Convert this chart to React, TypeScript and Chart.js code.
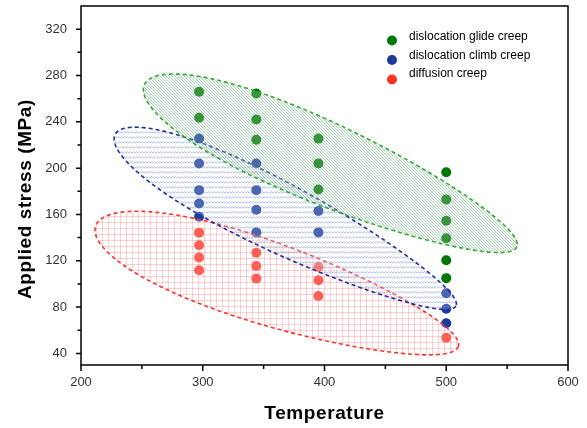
import React, { useEffect, useRef } from 'react';
import { Chart, registerables } from 'chart.js';

Chart.register(...registerables);

// ---- data ----
const seriesLabels = ['dislocation glide creep', 'dislocation climb creep', 'diffusion creep'];

const glideTemp = [297, 297, 344, 344, 344, 395, 395, 395, 500, 500, 500, 500, 500, 500];
const glideStress = [266, 243.5, 264.5, 242, 224.5, 225.5, 204, 181.5, 196.5, 173, 154.5, 139.5, 120.5, 105];

const climbTemp = [297, 297, 297, 297, 297, 344, 344, 344, 344, 395, 395, 500, 500, 500];
const climbStress = [225.5, 204, 181, 169.5, 158, 204, 181, 164, 144.5, 163, 144.5, 92, 78.5, 66];

const diffTemp = [297, 297, 297, 297, 344, 344, 344, 395, 395, 395, 500];
const diffStress = [144.3, 133.4, 122.8, 111.8, 127, 115.5, 104.6, 114.7, 103.2, 89.6, 53.6];

const xTicks = [200, 300, 400, 500, 600];
const xMinorTicks = [250, 350, 450, 550];
const yTicks = [40, 80, 120, 160, 200, 240, 280, 320];
const yMinorTicks = [60, 100, 140, 180, 220, 260, 300];

// regime envelopes (data units): centre temperature, centre stress, tip temperature, tip stress, width ratio, left-end bulge
const glideRegion = [405, 202, 558, 132, 0.2, 0.18];
const climbRegion = [368, 155, 508, 81, 0.18, 0.2];
const diffRegion = [361, 98, 510, 46, 0.215, 0.18];

const FONT = "'Liberation Sans', Arial, sans-serif";

function makePattern(kind: string): CanvasPattern | string {
  const c = document.createElement('canvas');
  const g = c.getContext('2d')!;
  if (kind === 'diag') {
    c.width = 3; c.height = 3;
    g.strokeStyle = 'rgba(40,140,75,0.42)';
    g.lineWidth = 1;
    g.beginPath();
    g.moveTo(-1, -1); g.lineTo(4, 4);
    g.moveTo(-1, 2); g.lineTo(1, 4);
    g.moveTo(2, -1); g.lineTo(4, 1);
    g.stroke();
  } else if (kind === 'wave') {
    c.width = 6; c.height = 5;
    g.strokeStyle = 'rgba(80,110,200,0.45)';
    g.lineWidth = 1;
    g.beginPath();
    g.moveTo(0, 3.2); g.lineTo(1.5, 1.8); g.lineTo(3, 3.2); g.lineTo(4.5, 1.8); g.lineTo(6, 3.2);
    g.stroke();
  } else {
    c.width = 6; c.height = 6;
    g.strokeStyle = 'rgba(255,110,110,0.32)';
    g.lineWidth = 1;
    g.beginPath();
    g.moveTo(0.5, 0); g.lineTo(0.5, 6);
    g.moveTo(0, 0.5); g.lineTo(6, 0.5);
    g.stroke();
  }
  const p = g.createPattern(c, 'repeat');
  return p || 'rgba(0,0,0,0.1)';
}

const regionPlugin = {
  id: 'regions',
  afterDatasetsDraw(chart: any) {
    const ctx = chart.ctx as CanvasRenderingContext2D;
    const xs = chart.scales.x, ys = chart.scales.y;
    const draw = (r: number[], stroke: string, kind: string) => {
      const cx = xs.getPixelForValue(r[0]), cy = ys.getPixelForValue(r[1]);
      const tx = xs.getPixelForValue(r[2]), ty = ys.getPixelForValue(r[3]);
      const a = Math.hypot(tx - cx, ty - cy);
      const ang = Math.atan2(ty - cy, tx - cx);
      const b0 = a * r[4];
      const k = r[5];
      const ca = Math.cos(ang), sa = Math.sin(ang);
      ctx.save();
      ctx.beginPath();
      const n = 180;
      for (let i = 0; i <= n; i++) {
        const t = (i / n) * Math.PI * 2;
        const u = a * Math.cos(t);
        const v = b0 * (1 - k * Math.cos(t)) * Math.sin(t);
        const px = cx + u * ca - v * sa;
        const py = cy + u * sa + v * ca;
        if (i === 0) ctx.moveTo(px, py); else ctx.lineTo(px, py);
      }
      ctx.closePath();
      ctx.fillStyle = 'rgba(255,255,255,0.22)';
      ctx.fill();
      ctx.fillStyle = makePattern(kind) as any;
      ctx.fill();
      ctx.setLineDash([4, 3]);
      ctx.lineWidth = 1.6;
      ctx.strokeStyle = stroke;
      ctx.stroke();
      ctx.restore();
    };
    draw(diffRegion, '#ff3030', 'grid');
    draw(climbRegion, '#2030a0', 'wave');
    draw(glideRegion, '#33aa33', 'diag');
  },
  afterDraw(chart: any) {
    const ctx = chart.ctx as CanvasRenderingContext2D;
    const xs = chart.scales.x, ys = chart.scales.y;
    const { left, right, top, bottom } = chart.chartArea;
    ctx.save();
    // frame
    ctx.strokeStyle = '#000';
    ctx.lineWidth = 1.5;
    ctx.strokeRect(left, top, right - left, bottom - top);
    ctx.beginPath();
    xTicks.forEach(v => { const x = xs.getPixelForValue(v); ctx.moveTo(x, bottom); ctx.lineTo(x, bottom + 6); });
    xMinorTicks.forEach(v => { const x = xs.getPixelForValue(v); ctx.moveTo(x, bottom); ctx.lineTo(x, bottom + 4); });
    yTicks.forEach(v => { const y = ys.getPixelForValue(v); ctx.moveTo(left, y); ctx.lineTo(left - 5, y); });
    yMinorTicks.forEach(v => { const y = ys.getPixelForValue(v); ctx.moveTo(left, y); ctx.lineTo(left - 3.5, y); });
    ctx.stroke();

    // axis titles
    ctx.fillStyle = '#000';
    ctx.font = `bold 19px ${FONT}`;
    (ctx as any).letterSpacing = '0.6px';
    ctx.textAlign = 'center';
    ctx.textBaseline = 'alphabetic';
    ctx.fillText('Temperature', (left + right) / 2, 419);
    ctx.save();
    ctx.translate(31, 199);
    ctx.rotate(-Math.PI / 2);
    ctx.fillText('Applied stress (MPa)', 0, 0);
    ctx.restore();
    (ctx as any).letterSpacing = '0px';

    // legend
    const colors = chart.data.datasets.map((d: any) => d.backgroundColor);
    const markerY = [40.5, 60, 79.5];
    const textY = [36.5, 55.5, 73.5];
    ctx.font = `12px ${FONT}`;
    ctx.textAlign = 'left';
    ctx.textBaseline = 'middle';
    seriesLabels.forEach((lab, i) => {
      ctx.beginPath();
      ctx.arc(392, markerY[i], 5, 0, Math.PI * 2);
      ctx.fillStyle = colors[i];
      ctx.fill();
      ctx.fillStyle = '#000';
      ctx.fillText(lab, 409, textY[i]);
    });
    ctx.restore();
  },
};

export default function App() {
  const ref = useRef<HTMLCanvasElement>(null);
  useEffect(() => {
    const toPts = (xs: number[], ys: number[]) => xs.map((x, i) => ({ x, y: ys[i] }));
    const chart = new Chart(ref.current!, {
      type: 'scatter',
      data: {
        datasets: [
          { label: seriesLabels[0], data: toPts(glideTemp, glideStress), backgroundColor: '#007800', borderWidth: 0, pointRadius: 5 },
          { label: seriesLabels[1], data: toPts(climbTemp, climbStress), backgroundColor: '#1a3a9c', borderWidth: 0, pointRadius: 5 },
          { label: seriesLabels[2], data: toPts(diffTemp, diffStress), backgroundColor: '#ff3322', borderWidth: 0, pointRadius: 5 },
        ],
      },
      options: {
        responsive: false,
        animation: false,
        layout: { padding: { left: 0, right: 19, top: 6, bottom: 0 } },
        plugins: { legend: { display: false }, tooltip: { enabled: false } },
        scales: {
          x: {
            type: 'linear',
            min: 200,
            max: 600,
            afterBuildTicks: (s: any) => { s.ticks = xTicks.map(v => ({ value: v })); },
            afterFit: (s: any) => { s.height = 63; s.paddingLeft = 0; s.paddingRight = 0; },
            grid: { display: false, drawTicks: false },
            border: { display: false },
            ticks: { color: '#333', font: { family: FONT, size: 13 }, padding: 10, maxRotation: 0 },
            title: { display: false },
          },
          y: {
            type: 'linear',
            min: 30,
            max: 340,
            afterBuildTicks: (s: any) => { s.ticks = yTicks.map(v => ({ value: v })); },
            afterFit: (s: any) => { s.width = 81; s.paddingTop = 0; s.paddingBottom = 0; },
            grid: { display: false, drawTicks: false },
            border: { display: false },
            ticks: { color: '#333', font: { family: FONT, size: 13 }, padding: 14 },
            title: { display: false },
          },
        },
      },
      plugins: [regionPlugin],
    } as any);
    return () => chart.destroy();
  }, []);
  return (
    <div style={{ position: 'fixed', left: 0, top: 0, width: 587, height: 428, background: '#fff' }}>
      <canvas ref={ref} width={587} height={428} style={{ display: 'block' }} />
    </div>
  );
}
